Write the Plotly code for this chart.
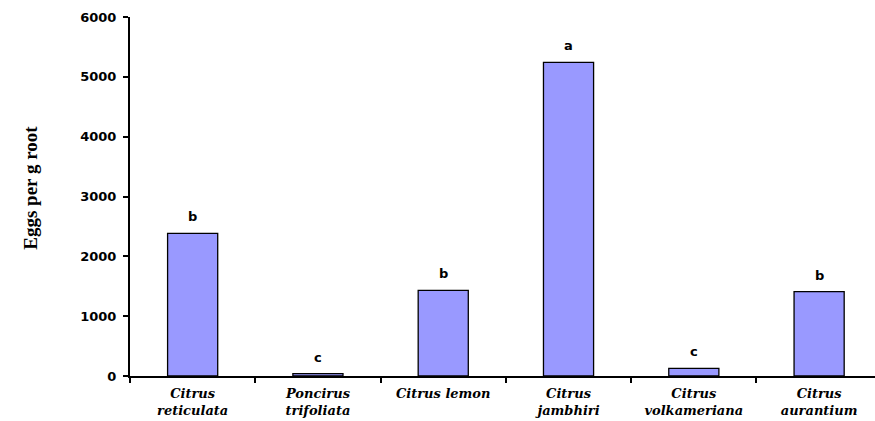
import plotly.graph_objects as go

categories = ["Citrus<br>reticulata", "Poncirus<br>trifoliata", "Citrus lemon",
              "Citrus<br>jambhiri", "Citrus<br>volkameriana", "Citrus<br>aurantium"]
eggs = [2385, 40, 1430, 5240, 128, 1410]
letters = ["b", "c", "b", "a", "c", "b"]
y_ticks = [0, 1000, 2000, 3000, 4000, 5000, 6000]

fig = go.Figure()
fig.add_trace(go.Bar(
    x=categories, y=eggs, width=0.4,
    marker=dict(color="#9999FF", line=dict(color="black", width=1.3)),
    showlegend=False,
))

for c, v, l in zip(categories, eggs, letters):
    fig.add_annotation(x=c, y=v, text=l, showarrow=False, yanchor="bottom", yshift=7,
                       font=dict(family="DejaVu Sans", size=13, color="black", weight="bold"))

fig.add_annotation(xref="paper", yref="paper", x=-0.134, y=0.525, text="Eggs per g root",
                   textangle=-90, showarrow=False, xanchor="center", yanchor="middle",
                   font=dict(family="Liberation Serif", size=19, color="black", weight="bold"))

fig.update_layout(
    width=875, height=421,
    margin=dict(l=130, r=0, t=17, b=45),
    plot_bgcolor="white", paper_bgcolor="white",
    bargap=0.6,
)
fig.update_xaxes(
    type="category", range=[-0.5, 5.446], automargin=False,
    showline=True, linecolor="black", linewidth=2,
    ticks="outside", tickson="boundaries", ticklen=5, tickwidth=2, tickcolor="black",
    ticklabelstandoff=4,
    showgrid=False, zeroline=False,
    tickfont=dict(family="DejaVu Serif", size=13, color="black", weight="bold", style="italic"),
)
fig.update_yaxes(
    range=[0, 6000], tickvals=y_ticks, automargin=False,
    showline=True, linecolor="black", linewidth=2,
    ticks="outside", ticklen=5, tickwidth=1.5, tickcolor="black",
    ticklabelstandoff=4,
    showgrid=False, zeroline=False,
    tickfont=dict(family="DejaVu Sans", size=13, color="black", weight="bold"),
)

fig.write_html("out.html", config={"displayModeBar": False},
               post_script="document.body.style.margin='0';")
